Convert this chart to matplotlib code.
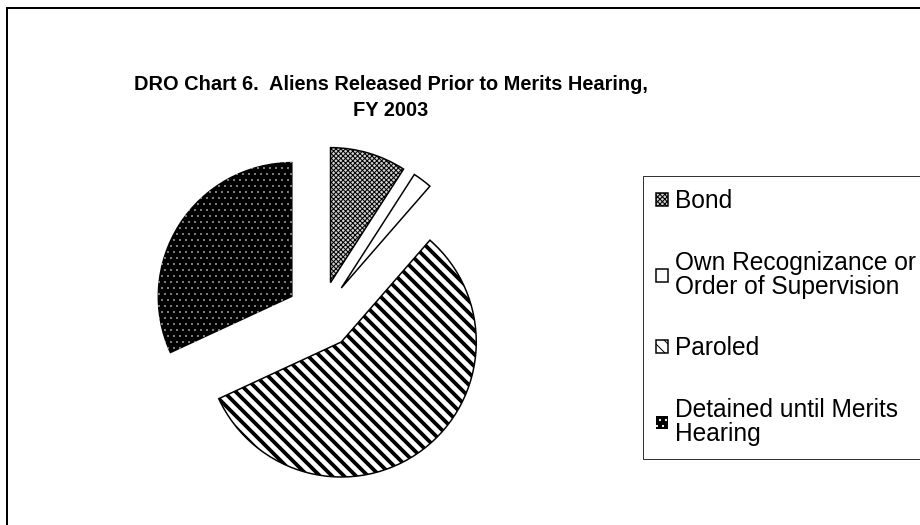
import matplotlib
matplotlib.use("Agg")
import matplotlib.pyplot as plt
from matplotlib.patches import Rectangle

# DRO Chart 6 - aliens released prior to merits hearing, FY 2003 (percent shares)
labels = ["Bond", "Own Recognizance or\nOrder of Supervision", "Paroled",
          "Detained until Merits\nHearing"]
shares = [9.1, 2.3, 56.7, 31.9]
explode = [0.25, 0.25, 0.25, 0.25]

plt.rcParams["font.family"] = ["Liberation Sans", "DejaVu Sans"]

W, H, DPI = 920, 525, 72
fig = plt.figure(figsize=(W / DPI, H / DPI), dpi=DPI)

# pie centre ~ (321, 315) px, radius ~ 135 px
cx, cy, r = 321, 315, 135
size = 3 * r
ax = fig.add_axes([(cx - size / 2) / W, (H - cy - size / 2) / H, size / W, size / H])

wedges, _ = ax.pie(shares, explode=explode, startangle=90, counterclock=False,
                   radius=1.0, wedgeprops=dict(linewidth=1.5))
ax.set_xlim(-1.5, 1.5)
ax.set_ylim(-1.5, 1.5)
ax.set_aspect("equal")
ax.axis("off")

styles = [
    dict(fc="#d0d0d0", ec="black", hatch="xxxxx", hlw=1.0, lw=1.5),
    dict(fc="white", ec="black", hatch=None, hlw=1.0, lw=1.5),
    dict(fc="white", ec="black", hatch="\\\\", hlw=3.8, lw=1.5),
    dict(fc="black", ec="white", hatch="..", hlw=0.3, lw=0),
]
for w, s in zip(wedges, styles):
    w.set_facecolor(s["fc"])
    w.set_edgecolor(s["ec"])
    w.set_linewidth(s["lw"])
    if s["hatch"]:
        w.set_hatch(s["hatch"])
        if hasattr(w, "set_hatch_linewidth"):
            w.set_hatch_linewidth(s["hlw"])

fig.text(0.425, 1 - 97.5 / H, "DRO Chart 6.  Aliens Released Prior to Merits Hearing,\nFY 2003",
         ha="center", va="center", fontsize=20, fontweight="bold", linespacing=1.43)

leg = fig.legend(wedges, labels, loc="upper left",
                 bbox_to_anchor=(643 / W, 1 - 176 / H),
                 fontsize=24.5, frameon=True, fancybox=False, shadow=False,
                 handlelength=0.45, handleheight=0.45, handletextpad=0.3,
                 labelspacing=1.54, borderpad=0.55, borderaxespad=0)
leg.get_frame().set_edgecolor("black")
leg.get_frame().set_linewidth(1.0)
for t in leg.get_texts():
    t.set_linespacing(0.97)

# outer chart border (right and bottom edges fall outside the picture)
fig.patches.append(Rectangle((7 / W, -0.1), 1.2, 1.1 - 8 / H, transform=fig.transFigure,
                             fill=False, edgecolor="black", linewidth=2, clip_on=False))

fig.savefig("out.png", dpi=DPI, facecolor="white")
